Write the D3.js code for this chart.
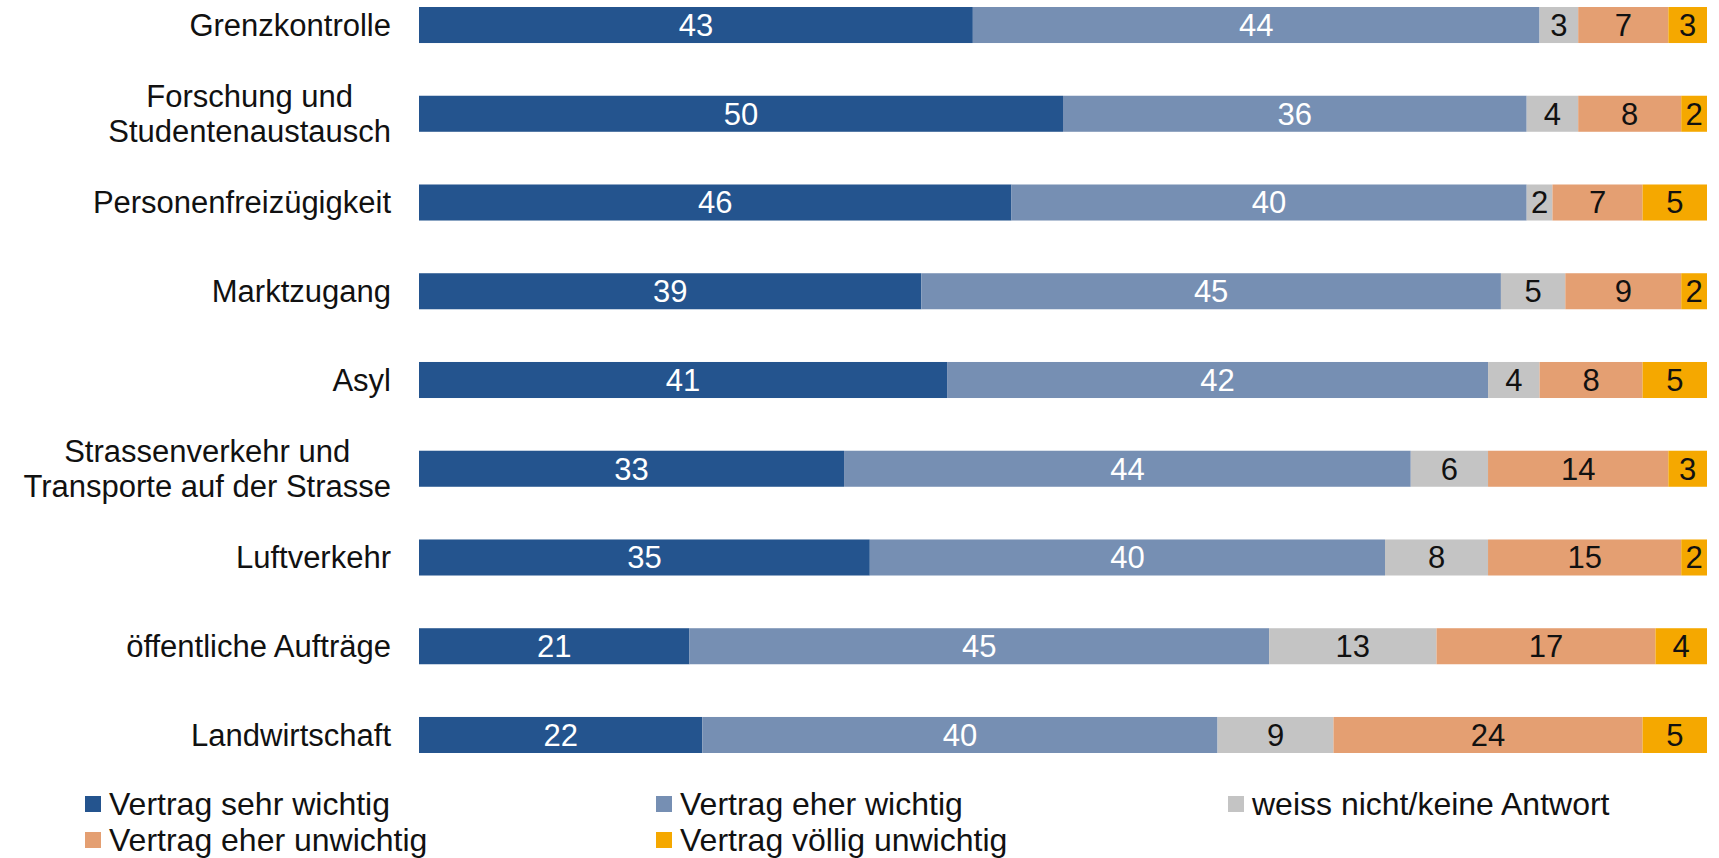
<!DOCTYPE html>
<html>
<head>
    <title>Wichtigkeit der Verträge</title>
    <script src="https://d3js.org/d3.v7.min.js"></script>
    <style>
        body { margin: 0; background: #fff; }
        text { font-family: "Liberation Sans", Arial, sans-serif; }
    </style>
</head>
<body>
    <div id="chart"></div>

    <script>
        // Kategorien (Zeilen), Zeilenumbruch als "\n"
        const categories = [
            "Grenzkontrolle",
            "Forschung und\nStudentenaustausch",
            "Personenfreizügigkeit",
            "Marktzugang",
            "Asyl",
            "Strassenverkehr und\nTransporte auf der Strasse",
            "Luftverkehr",
            "öffentliche Aufträge",
            "Landwirtschaft"
        ];

        // Werte in Prozent je Antwortkategorie
        const sehrWichtig      = [43, 50, 46, 39, 41, 33, 35, 21, 22];
        const eherWichtig      = [44, 36, 40, 45, 42, 44, 40, 45, 40];
        const weissNicht       = [3, 4, 2, 5, 4, 6, 8, 13, 9];
        const eherUnwichtig    = [7, 8, 7, 9, 8, 14, 15, 17, 24];
        const voelligUnwichtig = [3, 2, 5, 2, 5, 3, 2, 4, 5];

        const seriesNames = [
            "Vertrag sehr wichtig",
            "Vertrag eher wichtig",
            "weiss nicht/keine Antwort",
            "Vertrag eher unwichtig",
            "Vertrag völlig unwichtig"
        ];
        const seriesValues = [sehrWichtig, eherWichtig, weissNicht, eherUnwichtig, voelligUnwichtig];
        const colors = ["#24548e", "#768fb3", "#c4c4c4", "#e49f72", "#f5a800"];
        const labelColors = ["#fff", "#fff", "#111", "#111", "#111"];

        const width = 1719;
        const height = 858;

        // Tabelle für d3.stack aufbauen
        const rows = categories.map((c, i) => {
            const r = { cat: c };
            seriesNames.forEach((s, j) => { r[s] = seriesValues[j][i]; });
            return r;
        });
        const stacked = d3.stack().keys(seriesNames)(rows);

        const x = d3.scaleLinear().domain([0, 100]).range([419, 1707]);
        const y = d3.scaleBand().domain(categories).range([7, 753])
            .paddingInner(0.594).paddingOuter(0);

        const svg = d3.select("#chart")
            .append("svg")
            .attr("width", width)
            .attr("height", height);

        // Balken
        const layer = svg.selectAll("g.layer")
            .data(stacked)
            .join("g")
            .attr("class", "layer")
            .attr("fill", (d, i) => colors[i]);

        layer.selectAll("rect")
            .data(d => d)
            .join("rect")
            .attr("x", d => x(d[0]))
            .attr("y", d => y(d.data.cat))
            .attr("width", d => x(d[1]) - x(d[0]))
            .attr("height", y.bandwidth());

        // Werte in den Balken
        stacked.forEach((s, i) => {
            svg.append("g")
                .selectAll("text")
                .data(s)
                .join("text")
                .attr("x", d => (x(d[0]) + x(d[1])) / 2)
                .attr("y", d => y(d.data.cat) + y.bandwidth() / 2)
                .attr("dy", "0.35em")
                .attr("text-anchor", "middle")
                .attr("font-size", 31)
                .attr("fill", labelColors[i])
                .text(d => d[1] - d[0]);
        });

        // Kategorien links (mehrzeilige zentriert, Block rechtsbündig)
        const lineH = 35;
        const labelRight = 391;
        const catLabels = svg.append("g")
            .selectAll("text")
            .data(categories)
            .join("text")
            .attr("font-size", 31)
            .attr("fill", "#111");

        catLabels.each(function(c) {
            const t = d3.select(this);
            const lines = c.split("\n");
            const cy = y(c) + y.bandwidth() / 2;
            const start = cy - (lines.length - 1) * lineH / 2;
            const spans = t.selectAll("tspan")
                .data(lines)
                .join("tspan")
                .attr("y", (l, k) => start + k * lineH)
                .attr("dy", "0.35em")
                .text(l => l);
            if (lines.length === 1) {
                t.attr("text-anchor", "end");
                spans.attr("x", labelRight);
            } else {
                const maxW = d3.max(spans.nodes(), n => n.getComputedTextLength());
                t.attr("text-anchor", "middle");
                spans.attr("x", labelRight - maxW / 2);
            }
        });

        // Legende
        const legendX = [85, 656, 1228];
        const legendY = [804, 840];
        const legend = svg.append("g")
            .selectAll("g")
            .data(seriesNames)
            .join("g")
            .attr("transform", (d, i) => `translate(${legendX[i % 3]},${legendY[Math.floor(i / 3)]})`);

        legend.append("rect")
            .attr("x", 0)
            .attr("y", -8)
            .attr("width", 16)
            .attr("height", 16)
            .attr("fill", (d, i) => colors[i]);

        legend.append("text")
            .attr("x", 24)
            .attr("dy", "0.35em")
            .attr("font-size", 32)
            .attr("fill", "#111")
            .text(d => d);
    </script>
</body>
</html>
